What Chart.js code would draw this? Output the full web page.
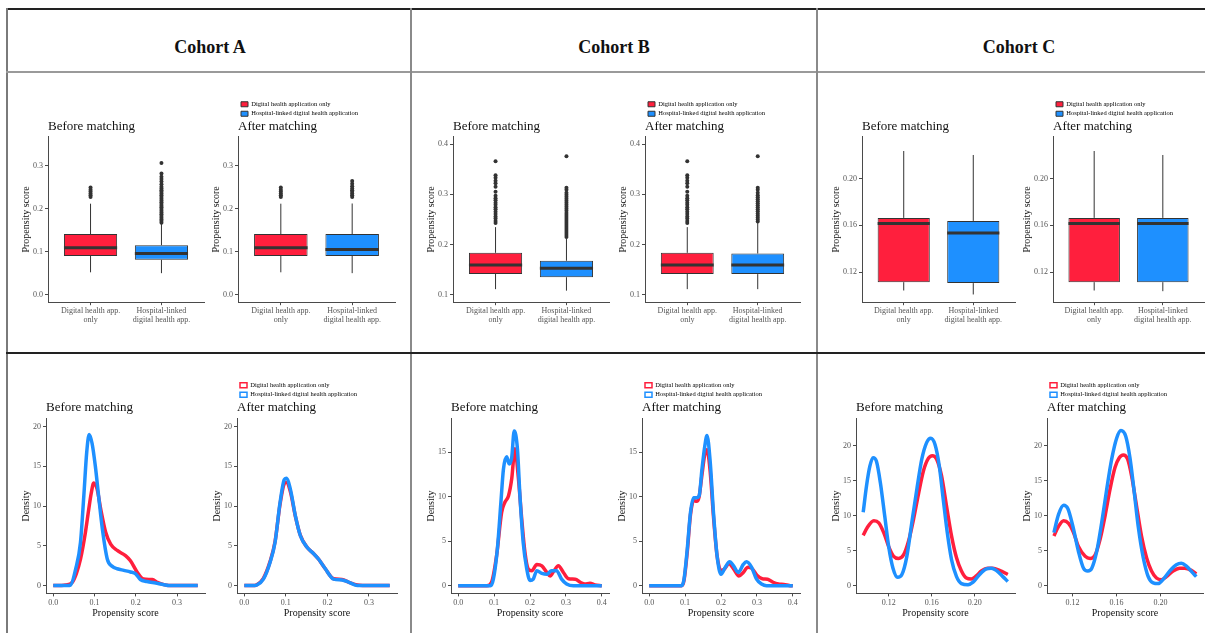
<!DOCTYPE html>
<html>
<head>
<meta charset="utf-8">
<script src="https://cdn.jsdelivr.net/npm/chart.js@4.4.0/dist/chart.umd.min.js"></script>
<style>
  body { margin: 0; width: 1205px; height: 633px; overflow: hidden; position: relative; background: #fff;
         font-family: 'Liberation Serif', 'Times New Roman', serif; }
  .rule { position: absolute; }
  .cohort { position: absolute; top: 37px; width: 300px; line-height: 20px; text-align: center;
            font-size: 18px; font-weight: bold; color: #111; }
  canvas { position: absolute; }
</style>
</head>
<body>
<script>
const cohorts = ['Cohort A', 'Cohort B', 'Cohort C'];
const groups = ['Digital health application only', 'Hospital-linked digital health application'];
const boxCategories = [['Digital health app.', 'only'], ['Hospital-linked', 'digital health app.']];

// box stats: [lower whisker, Q1, median, Q3, upper whisker]
const boxABeforeRed = [0.052, 0.090, 0.109, 0.141, 0.2115];
const boxABeforeBlue = [0.050, 0.081, 0.096, 0.115, 0.165];
const boxAAfterRed = [0.052, 0.090, 0.109, 0.141, 0.2115];
const boxAAfterBlue = [0.050, 0.090, 0.105, 0.141, 0.212];
const boxBBeforeRed = [0.111, 0.1414, 0.159, 0.1834, 0.2346];
const boxBBeforeBlue = [0.108, 0.1348, 0.1525, 0.1676, 0.2116];
const boxBAfterRed = [0.111, 0.1414, 0.159, 0.1834, 0.2346];
const boxBAfterBlue = [0.111, 0.141, 0.159, 0.182, 0.2445];
const boxCBeforeRed = [0.1043, 0.1114, 0.1614, 0.1663, 0.2234];
const boxCBeforeBlue = [0.1009, 0.1106, 0.1534, 0.1637, 0.220];
const boxCAfterRed = [0.1043, 0.1114, 0.1614, 0.1663, 0.2234];
const boxCAfterBlue = [0.1037, 0.1114, 0.1614, 0.1663, 0.220];

// outliers
const outABeforeRed = [0.227, 0.231, 0.235, 0.240, 0.244, 0.249];
const outABeforeBlue = [0.167, 0.171, 0.175, 0.179, 0.183, 0.187, 0.191, 0.195, 0.199, 0.203, 0.207, 0.211,
  0.215, 0.219, 0.223, 0.227, 0.231, 0.235, 0.239, 0.243, 0.247, 0.251, 0.257, 0.263, 0.269, 0.274, 0.282, 0.306];
const outAAfterRed = [0.227, 0.231, 0.235, 0.240, 0.244, 0.249];
const outAAfterBlue = [0.227, 0.231, 0.235, 0.239, 0.243, 0.247, 0.252, 0.258, 0.264];
const outBBeforeRed = [0.243, 0.247, 0.252, 0.256, 0.261, 0.265, 0.270, 0.274, 0.279, 0.283, 0.288, 0.292,
  0.297, 0.305, 0.315, 0.322, 0.327, 0.333, 0.338, 0.366];
const outBBeforeBlue = [0.215, 0.219, 0.223, 0.227, 0.231, 0.235, 0.239, 0.243, 0.247, 0.251, 0.255, 0.259,
  0.263, 0.267, 0.271, 0.275, 0.279, 0.283, 0.287, 0.291, 0.295, 0.299, 0.303, 0.309, 0.313, 0.376];
const outBAfterRed = [0.243, 0.247, 0.252, 0.256, 0.261, 0.265, 0.270, 0.274, 0.279, 0.283, 0.288, 0.292,
  0.297, 0.305, 0.315, 0.322, 0.327, 0.333, 0.338, 0.366];
const outBAfterBlue = [0.246, 0.250, 0.254, 0.258, 0.262, 0.266, 0.270, 0.274, 0.278, 0.282, 0.286, 0.290,
  0.294, 0.298, 0.303, 0.309, 0.313, 0.376];

// box y axes
const boxRangeA = [-0.0175, 0.3675];
const boxRangeB = [0.085, 0.415];
const boxRangeC = [0.0943, 0.2357];
const boxTicksA = ['0.0', '0.1', '0.2', '0.3'];
const boxTicksB = ['0.1', '0.2', '0.3', '0.4'];
const boxTicksC = ['0.12', '0.16', '0.20'];

// density curves: [propensity score, density]
const densABeforeRed = [[0, 0], [0.02, 0], [0.03, 0.05], [0.046, 0.4], [0.056, 1.5], [0.066, 3.3], [0.078, 6.7],
  [0.086, 9.6], [0.092, 11.6], [0.098, 12.9], [0.106, 12.2], [0.115, 9.6], [0.127, 6.7], [0.139, 5.2], [0.155, 4.4],
  [0.175, 3.75], [0.187, 3.1], [0.203, 1.7], [0.219, 0.8], [0.24, 0.75], [0.252, 0.4], [0.268, 0.1], [0.28, 0], [0.35, 0]];
const densABeforeBlue = [[0, 0], [0.035, 0], [0.042, 0.05], [0.054, 2], [0.066, 5.4], [0.074, 11.2], [0.081, 16.7],
  [0.087, 19], [0.094, 17.9], [0.102, 15], [0.11, 11.2], [0.119, 7.1], [0.131, 3.3], [0.143, 2.4], [0.155, 2.1],
  [0.171, 1.9], [0.187, 1.7], [0.199, 1.5], [0.211, 0.75], [0.227, 0.5], [0.248, 0.3], [0.268, 0.1], [0.28, 0], [0.35, 0]];
const densAAfterRed = [[0, 0], [0.025, 0], [0.03, 0.08], [0.046, 0.9], [0.062, 3.0], [0.074, 5.5], [0.086, 10.2],
  [0.096, 12.8], [0.101, 13], [0.111, 11.8], [0.123, 8.7], [0.135, 6.3], [0.151, 4.8], [0.167, 4.0], [0.179, 3.3],
  [0.195, 2.1], [0.215, 0.85], [0.235, 0.75], [0.252, 0.4], [0.272, 0.05], [0.285, 0], [0.35, 0]];
const densAAfterBlue = [[0, 0], [0.025, 0], [0.03, 0.05], [0.046, 0.8], [0.062, 2.9], [0.074, 5.4], [0.086, 10.4],
  [0.096, 13.3], [0.101, 13.5], [0.111, 12.1], [0.123, 8.75], [0.135, 6.25], [0.151, 4.8], [0.167, 4], [0.179, 3.3],
  [0.195, 2.1], [0.215, 0.8], [0.235, 0.7], [0.252, 0.4], [0.272, 0], [0.35, 0]];
const densBBeforeRed = [[0, 0], [0.08, 0], [0.093, 0.4], [0.107, 3.4], [0.121, 8.25], [0.13, 9.4], [0.14, 10.1],
  [0.149, 12], [0.158, 15.4], [0.167, 12.4], [0.177, 7.5], [0.186, 3.75], [0.195, 1.9], [0.205, 1.7], [0.219, 2.4],
  [0.233, 2.25], [0.247, 1.5], [0.256, 1.1], [0.267, 1.7], [0.279, 2.25], [0.293, 1.5], [0.307, 0.8], [0.326, 0.75],
  [0.34, 0.4], [0.353, 0.2], [0.367, 0.3], [0.381, 0.1], [0.4, 0]];
const densBBeforeBlue = [[0, 0], [0.09, 0], [0.098, 0.75], [0.109, 4.1], [0.119, 9.4], [0.126, 13.1], [0.135, 14.5],
  [0.142, 13.7], [0.149, 14.4], [0.156, 17.4], [0.165, 15.4], [0.172, 10.1], [0.181, 4.9], [0.191, 1.9], [0.2, 0.6],
  [0.209, 0.75], [0.219, 1.7], [0.233, 1.4], [0.247, 1.3], [0.26, 1.7], [0.274, 1.7], [0.288, 0.75], [0.302, 0.2],
  [0.321, 0], [0.4, 0]];
const densBAfterRed = [[0, 0], [0.09, 0], [0.097, 0.6], [0.106, 3.8], [0.115, 8], [0.124, 9.6], [0.132, 9.5],
  [0.139, 10], [0.147, 12.5], [0.155, 14.8], [0.161, 15.3], [0.17, 12.8], [0.179, 7.8], [0.189, 3.4], [0.2, 1.7],
  [0.21, 1.9], [0.222, 2.5], [0.235, 1.9], [0.25, 1.1], [0.262, 1.5], [0.275, 2.1], [0.285, 2.0], [0.3, 1.2],
  [0.315, 0.8], [0.33, 0.75], [0.345, 0.4], [0.36, 0.2], [0.375, 0.15], [0.39, 0.05], [0.4, 0]];
const densBAfterBlue = [[0, 0], [0.09, 0], [0.097, 0.75], [0.106, 4.1], [0.115, 8.25], [0.124, 9.9], [0.132, 9.9],
  [0.139, 10.1], [0.147, 13.1], [0.155, 15.75], [0.161, 16.9], [0.17, 13.9], [0.179, 8.25], [0.189, 3.4], [0.2, 1.3],
  [0.212, 2.1], [0.224, 2.7], [0.235, 2.25], [0.248, 1.5], [0.262, 2.4], [0.271, 2.7], [0.285, 2.1], [0.299, 0.75],
  [0.313, 0.2], [0.327, 0], [0.4, 0]];
const densCBeforeRed = [[0.0963, 7.2], [0.1, 8.3], [0.1062, 9.3], [0.1108, 9.0], [0.1154, 7.6], [0.12, 5.6],
  [0.1246, 4.2], [0.1292, 3.9], [0.1338, 4.4], [0.1385, 6.4], [0.1431, 9.5], [0.1477, 13.1], [0.1523, 16.4],
  [0.1569, 18.2], [0.1606, 18.6], [0.1646, 18.1], [0.1692, 15.7], [0.1738, 11.4], [0.1785, 7.1], [0.1831, 4.0],
  [0.1877, 2.1], [0.1923, 1.1], [0.1969, 0.96], [0.2015, 1.4], [0.2062, 2.1], [0.2123, 2.5], [0.2169, 2.5],
  [0.2231, 2.2], [0.2308, 1.6]];
const densCBeforeBlue = [[0.0963, 10.5], [0.0994, 14.3], [0.1025, 17.1], [0.1055, 18.3], [0.1086, 17.8],
  [0.1123, 14.7], [0.1163, 10.0], [0.12, 5.6], [0.124, 2.5], [0.1283, 1.2], [0.1323, 1.6], [0.1369, 4.2],
  [0.1415, 9.0], [0.1462, 13.8], [0.1508, 18.1], [0.1554, 20.5], [0.1591, 21.1], [0.1631, 20.2], [0.1671, 17.1],
  [0.1708, 12.3], [0.1745, 7.6], [0.1785, 3.7], [0.1831, 1.3], [0.1877, 0.3], [0.1938, 0.15], [0.1985, 0.5],
  [0.2046, 1.6], [0.2108, 2.4], [0.2154, 2.5], [0.22, 2.2], [0.2262, 1.3], [0.2308, 0.6]];
const densCAfterRed = [[0.1031, 7.1], [0.1073, 8.5], [0.1119, 9.3], [0.1164, 8.9], [0.1209, 7.6], [0.1254, 5.6],
  [0.1315, 4.2], [0.136, 3.9], [0.1405, 4.4], [0.145, 6.6], [0.1496, 10.0], [0.1541, 13.8], [0.1586, 16.9],
  [0.1625, 18.3], [0.1662, 18.7], [0.1701, 18.1], [0.1737, 15.7], [0.1782, 11.4], [0.1827, 7.1], [0.1873, 4.0],
  [0.1918, 2.1], [0.1963, 1.1], [0.2008, 0.86], [0.2054, 1.3], [0.2114, 2.1], [0.2174, 2.5], [0.222, 2.5],
  [0.228, 2.2], [0.2325, 1.7]];
const densCAfterBlue = [[0.1031, 7.6], [0.1073, 10.2], [0.1119, 11.5], [0.1158, 11.0], [0.1203, 8.5], [0.1254, 4.9],
  [0.13, 2.5], [0.1339, 2.1], [0.1375, 2.5], [0.142, 4.9], [0.1465, 9.0], [0.1511, 13.8], [0.1556, 18.1],
  [0.1601, 21.1], [0.164, 22.2], [0.1683, 21.4], [0.1722, 18.3], [0.1758, 13.8], [0.1797, 8.5], [0.1843, 4.0],
  [0.1888, 1.3], [0.1933, 0.4], [0.1978, 0.3], [0.2024, 0.9], [0.2084, 2.1], [0.2144, 3.0], [0.2189, 3.2],
  [0.2235, 2.8], [0.2295, 1.8], [0.2325, 1.3]];

// density axes
const densXRangeA = [-0.0175, 0.3675];
const densXRangeB = [-0.02, 0.42];
const densXRangeCBefore = [0.0896, 0.2375];
const densXRangeCAfter = [0.0968, 0.2386];
const densYRangeA = [-1, 21];
const densYRangeB = [-0.85, 18.8];
const densYRangeC = [-1.1, 23.9];
const densXTicksA = ['0.0', '0.1', '0.2', '0.3'];
const densXTicksB = ['0.0', '0.1', '0.2', '0.3', '0.4'];
const densXTicksC = ['0.12', '0.16', '0.20'];
const densYTicksA = ['0', '5', '10', '15', '20'];
const densYTicksB = ['0', '5', '10', '15'];
const densYTicksC = ['0', '5', '10', '15', '20'];

const RED = '#FF1F3D';
const BLUE = '#1E90FF';
const INK = '#333333';
const AXIS = '#4a4a4a';
const colors = [RED, BLUE];
const BOX_W = 0.75;

Chart.defaults.font.family = "'Liberation Serif', 'Times New Roman', serif";
Chart.defaults.animation = false;
Chart.defaults.responsive = false;

// table frame
const rule = (l, t, w, h, c) => {
  const d = document.createElement('div');
  d.className = 'rule';
  Object.assign(d.style, { left: l + 'px', top: t + 'px', width: w + 'px', height: h + 'px', background: c });
  document.body.appendChild(d);
};
rule(6, 8, 1199, 2, '#222');
rule(6, 8, 2, 625, '#7a7a7a');
rule(6, 71, 1199, 2, '#9a9a9a');
rule(410, 8, 2, 625, '#8a8a8a');
rule(816, 8, 2, 625, '#8a8a8a');
rule(6, 352, 1199, 2, '#222');
[210, 614, 1019].forEach((cx, i) => {
  const d = document.createElement('div');
  d.className = 'cohort';
  d.style.left = (cx - 150) + 'px';
  d.textContent = cohorts[i];
  document.body.appendChild(d);
});

const axisCommon = (labels) => ({
  type: 'linear',
  bounds: 'data',
  offset: false,
  afterBuildTicks: (s) => { s.ticks = labels.map((v) => ({ value: parseFloat(v) })); },
  grid: { display: true, drawOnChartArea: false, drawTicks: true, tickLength: 3, color: AXIS, offset: false },
  border: { display: true, color: AXIS, width: 1 },
});

const legendFor = (kind) => ({
  display: true,
  position: 'top',
  align: 'start',
  fullSize: false,
  weight: 3000,
  labels: {
    boxWidth: 7,
    boxHeight: 5,
    padding: 3,
    color: '#111',
    font: { size: 6.5 },
    generateLabels: () => groups.map((g, i) => ({
      text: g,
      fillStyle: kind === 'box' ? colors[i] : '#ffffff',
      strokeStyle: kind === 'box' ? INK : colors[i],
      lineWidth: kind === 'box' ? 1 : 1.5,
      hidden: false,
      datasetIndex: i,
    })),
  },
});

// negative top padding pulls the legend down onto the title
const titleFor = (text, gap) => ({
  display: true, text, align: 'start', fullSize: false, color: '#111',
  font: { size: 13, weight: 'normal' }, padding: { top: -8, bottom: gap },
});

const yTitle = (text) => ({
  display: true, text, color: '#111', font: { size: 10, lineHeight: 1 }, padding: { top: 0, bottom: 0 },
});

function boxConfig(stats, outliers, yRange, yTicks, title, legendOn) {
  const centers = stats.map((s, i) => i + 1);
  const boxes = stats.map((s, i) => ({ x: centers[i], y: [s[1], s[3]] }));
  const whiskers = [];
  const medians = [];
  stats.forEach((s, i) => {
    const c = centers[i];
    whiskers.push({ x: c, y: s[0] }, { x: c, y: s[1] }, { x: c, y: null }, { x: c, y: s[3] }, { x: c, y: s[4] }, { x: c, y: null });
    medians.push({ x: c - BOX_W / 2, y: s[2] }, { x: c + BOX_W / 2, y: s[2] }, { x: c, y: null });
  });
  const points = [];
  outliers.forEach((arr, i) => arr.forEach((v) => points.push({ x: centers[i], y: v })));

  return {
    type: 'bar',
    data: {
      datasets: [
        { type: 'line', data: whiskers, borderColor: INK, borderWidth: 1, pointRadius: 0, spanGaps: false, order: 3 },
        { type: 'bar', data: boxes, backgroundColor: colors, borderColor: INK, borderWidth: 1, borderSkipped: false,
          barPercentage: BOX_W, categoryPercentage: 1, order: 2 },
        { type: 'line', data: medians, borderColor: INK, borderWidth: 3, pointRadius: 0, spanGaps: false, order: 1 },
        { type: 'line', data: points, showLine: false, pointRadius: 2, pointBackgroundColor: INK,
          pointBorderWidth: 0, order: 0 },
      ],
    },
    options: {
      layout: { padding: { left: 0, right: 4, top: 12, bottom: 0 } },
      plugins: {
        legend: legendOn ? legendFor('box') : { display: false },
        title: titleFor(title, 2),
        tooltip: { enabled: false },
      },
      scales: {
        x: {
          ...axisCommon(['1', '2']),
          min: 0.4, max: 2.6,
          ticks: { callback: (v, i) => boxCategories[i], color: '#555', font: { size: 8, lineHeight: 1.05 },
                   padding: 2, maxRotation: 0, autoSkip: false },
        },
        y: {
          ...axisCommon(yTicks),
          min: yRange[0], max: yRange[1],
          ticks: { callback: (v, i) => yTicks[i], color: '#555', font: { size: 8 }, padding: 2 },
          title: yTitle('Propensity score'),
        },
      },
    },
  };
}

function densityConfig(curves, xRange, xTicks, yRange, yTicks, title, legendOn) {
  return {
    type: 'line',
    data: {
      datasets: curves.map((c, i) => ({
        label: groups[i],
        data: c.map(([x, y]) => ({ x, y })),
        borderColor: colors[i],
        borderWidth: 3.5,
        pointRadius: 0,
        cubicInterpolationMode: 'monotone',
        fill: false,
        order: 1 - i,
      })),
    },
    options: {
      layout: { padding: { left: 0, right: 6, top: 12, bottom: 0 } },
      plugins: {
        legend: legendOn ? legendFor('density') : { display: false },
        title: titleFor(title, 3),
        tooltip: { enabled: false },
      },
      scales: {
        x: {
          ...axisCommon(xTicks),
          min: xRange[0], max: xRange[1],
          ticks: { callback: (v, i) => xTicks[i], color: '#555', font: { size: 8 }, padding: 2, maxRotation: 0, autoSkip: false },
          title: { display: true, text: 'Propensity score', color: '#111', font: { size: 10, lineHeight: 1 }, padding: { top: -2, bottom: 0 } },
        },
        y: {
          ...axisCommon(yTicks),
          min: yRange[0], max: yRange[1],
          ticks: { callback: (v, i) => yTicks[i], color: '#555', font: { size: 8 }, padding: 2 },
          title: yTitle('Density'),
        },
      },
    },
  };
}

// put a chart so that its plot area lands on the target box
function place(target, makeConfig) {
  const canvas = document.createElement('canvas');
  document.body.appendChild(canvas);
  const size = (w, h) => {
    canvas.width = Math.round(w); canvas.height = Math.round(h);
    canvas.style.width = Math.round(w) + 'px'; canvas.style.height = Math.round(h) + 'px';
  };
  let w = target.r - target.l + 60, h = target.b - target.t + 90;
  let chart;
  for (let pass = 0; pass < 3; pass++) {
    size(w, h);
    chart = new Chart(canvas, makeConfig());
    const a = chart.chartArea;
    const ml = a.left, mt = a.top, mr = chart.width - a.right, mb = chart.height - a.bottom;
    canvas.style.left = (target.l - ml) + 'px';
    canvas.style.top = (target.t - mt) + 'px';
    w = target.r - target.l + ml + mr;
    h = target.b - target.t + mt + mb;
    if (pass < 2) chart.destroy();
  }
  return chart;
}

const topBoxes = [
  { l: 48, r: 204, stats: [boxABeforeRed, boxABeforeBlue], out: [outABeforeRed, outABeforeBlue], yr: boxRangeA, yt: boxTicksA, title: 'Before matching', legend: false },
  { l: 238, r: 395, stats: [boxAAfterRed, boxAAfterBlue], out: [outAAfterRed, outAAfterBlue], yr: boxRangeA, yt: boxTicksA, title: 'After matching', legend: true },
  { l: 453, r: 609, stats: [boxBBeforeRed, boxBBeforeBlue], out: [outBBeforeRed, outBBeforeBlue], yr: boxRangeB, yt: boxTicksB, title: 'Before matching', legend: false },
  { l: 645, r: 800, stats: [boxBAfterRed, boxBAfterBlue], out: [outBAfterRed, outBAfterBlue], yr: boxRangeB, yt: boxTicksB, title: 'After matching', legend: true },
  { l: 862, r: 1015, stats: [boxCBeforeRed, boxCBeforeBlue], out: [[], []], yr: boxRangeC, yt: boxTicksC, title: 'Before matching', legend: false },
  { l: 1053, r: 1204, stats: [boxCAfterRed, boxCAfterBlue], out: [[], []], yr: boxRangeC, yt: boxTicksC, title: 'After matching', legend: true },
];
topBoxes.forEach((p) => {
  place({ l: p.l, r: p.r, t: 137, b: 303 }, () => boxConfig(p.stats, p.out, p.yr, p.yt, p.title, p.legend));
});

const bottomDens = [
  { l: 46, r: 205, curves: [densABeforeRed, densABeforeBlue], xr: densXRangeA, xt: densXTicksA, yr: densYRangeA, yt: densYTicksA, title: 'Before matching', legend: false },
  { l: 237, r: 397, curves: [densAAfterRed, densAAfterBlue], xr: densXRangeA, xt: densXTicksA, yr: densYRangeA, yt: densYTicksA, title: 'After matching', legend: true },
  { l: 451, r: 609, curves: [densBBeforeRed, densBBeforeBlue], xr: densXRangeB, xt: densXTicksB, yr: densYRangeB, yt: densYTicksB, title: 'Before matching', legend: false },
  { l: 642, r: 800, curves: [densBAfterRed, densBAfterBlue], xr: densXRangeB, xt: densXTicksB, yr: densYRangeB, yt: densYTicksB, title: 'After matching', legend: true },
  { l: 856, r: 1015, curves: [densCBeforeRed, densCBeforeBlue], xr: densXRangeCBefore, xt: densXTicksC, yr: densYRangeC, yt: densYTicksC, title: 'Before matching', legend: false },
  { l: 1047, r: 1203, curves: [densCAfterRed, densCAfterBlue], xr: densXRangeCAfter, xt: densXTicksC, yr: densYRangeC, yt: densYTicksC, title: 'After matching', legend: true },
];
bottomDens.forEach((p) => {
  place({ l: p.l, r: p.r, t: 419, b: 594 }, () => densityConfig(p.curves, p.xr, p.xt, p.yr, p.yt, p.title, p.legend));
});
</script>
</body>
</html>
